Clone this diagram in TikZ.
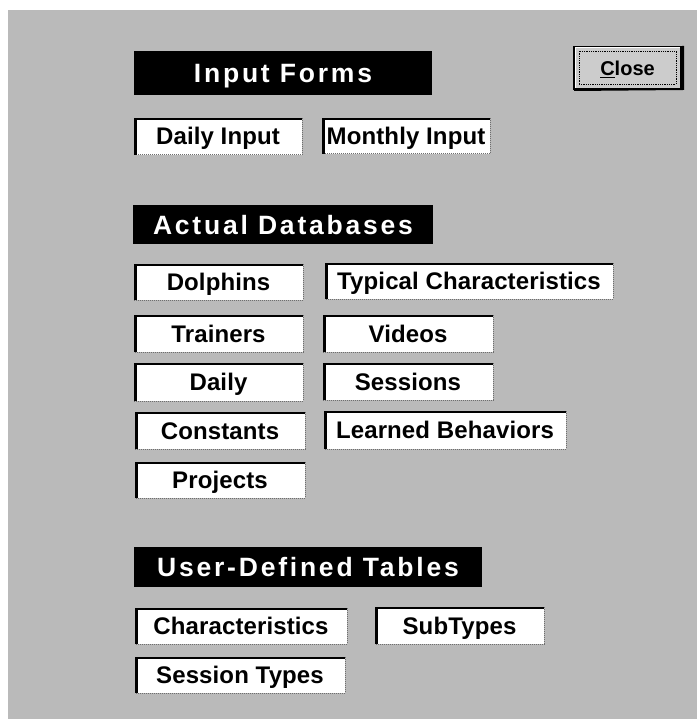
\documentclass[tikz,border=0pt]{standalone}
\usepackage{fontspec}
\setmainfont{Liberation Sans}
\newfontfamily\hdrfont{Liberation Sans}[LetterSpace=10.5]
\newfontfamily\btnfont{Liberation Sans}[LetterSpace=0.5]
\definecolor{bggray}{RGB}{186,186,186}
\definecolor{edgegray}{RGB}{110,110,110}
\definecolor{closegray}{RGB}{204,204,204}
\tikzset{
  btnbox/.style={rectangle, fill=white, inner sep=0pt, outer sep=0pt,
    text height=17pt, text depth=0pt,
    font=\btnfont\bfseries\fontsize{24}{28}\selectfont, text=black},
  hdrbox/.style={rectangle, fill=black, inner sep=0pt, outer sep=0pt,
    text height=19pt, text depth=0pt,
    font=\hdrfont\bfseries\fontsize{26.5}{30}\selectfont, text=white},
  darkedge/.style={line width=3pt, black},
  topedge/.style={line width=2pt, black},
  softedge/.style={line width=1pt, edgegray, densely dotted},
}
% \mybtn{name}{x1}{y1}{x2}{y2}{text}
\newcommand{\mybtn}[6]{%
  \node[btnbox, minimum width=#4pt-#2pt, minimum height=#5pt-#3pt]
    (#1) at ({(#2+#4)/2},{(#3+#5)/2}) {#6};
  \draw[softedge] (#1.north east) -- (#1.south east) -- (#1.south west);
  \draw[topedge] ([yshift=-1pt]#1.north west) -- ([yshift=-1pt]#1.north east);
  \draw[darkedge] ([xshift=1.5pt]#1.south west) -- ([xshift=1.5pt]#1.north west);
}
\newcommand{\myhdr}[6]{%
  \node[hdrbox, minimum width=#4pt-#2pt, minimum height=#5pt-#3pt]
    (#1) at ({(#2+#4)/2},{(#3+#5)/2}) {#6};
}
\begin{document}
\begin{tikzpicture}[x=1pt,y=-1pt]
\useasboundingbox (0,0) rectangle (697,719);
\fill[white] (0,0) rectangle (697,719);
\fill[bggray] (8,10) rectangle (697,719);

% Close button
\node[rectangle, fill=closegray, draw=black, line width=2pt, inner sep=0pt,
  minimum width=107pt, minimum height=42pt, text height=14.5pt, text depth=0pt,
  font=\bfseries\fontsize{20}{24}\selectfont] (close) at (627.5,68) {\underline{C}lose};
\draw[black, line width=2pt] ([xshift=1pt]close.south west) -- ([xshift=1pt,yshift=1pt]close.south east) -- ([xshift=1pt]close.north east);
\draw[white, line width=1pt] ([xshift=2pt,yshift=2pt]close.south west) -- ([xshift=2pt,yshift=-2pt]close.north west) -- ([xshift=-2pt,yshift=-2pt]close.north east);
\draw[black, line width=0.8pt, densely dotted] ([xshift=6pt,yshift=6pt]close.south west) rectangle ([xshift=-6pt,yshift=-5pt]close.north east);

% Input Forms
\myhdr{hInput}{134}{51}{432}{95}{Input Forms}
\mybtn{bDailyInput}{134}{118}{302}{155}{Daily Input}
\mybtn{bMonthly}{322}{118}{490}{154}{Monthly Input}

% Actual Databases
\myhdr{hActual}{133}{205}{433}{244}{Actual Databases}
\mybtn{bDolphins}{134}{264}{303}{300}{Dolphins}
\mybtn{bTypical}{325}{263}{613}{299}{Typical Characteristics}
\mybtn{bTrainers}{134}{315}{303}{352}{Trainers}
\mybtn{bVideos}{323}{315}{493}{352}{Videos}
\mybtn{bDaily}{134}{363}{303}{401}{Daily}
\mybtn{bSessions}{323}{363}{493}{400}{Sessions}
\mybtn{bConstants}{135}{412}{305}{449}{Constants}
\mybtn{bLearned}{324}{411}{566}{449}{Learned Behaviors}
\mybtn{bProjects}{135}{462}{305}{498}{Projects}

% User-Defined Tables
\myhdr{hUser}{134}{547}{482}{587}{User-Defined Tables}
\mybtn{bChar}{135}{608}{347}{644}{Characteristics}
\mybtn{bSubTypes}{375}{607}{544}{644}{SubTypes}
\mybtn{bSessTypes}{135}{657}{345}{693}{Session Types}
\end{tikzpicture}
\end{document}
